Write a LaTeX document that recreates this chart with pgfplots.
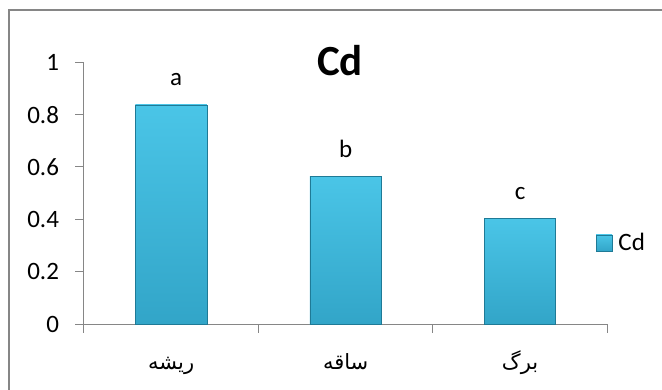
\documentclass[border=0pt]{standalone}
\usepackage{fontspec}
\setmainfont{Carlito}
\newfontfamily\arabicfont[Script=Arabic]{DejaVu Sans}
\usepackage{pgfplots}
\pgfplotsset{compat=1.18}
\TeXXeTstate=1

\definecolor{axisgray}{HTML}{868686}
\definecolor{bartop}{HTML}{4AC5E7}
\definecolor{barmid}{HTML}{3CB9DD}
\definecolor{barbot}{HTML}{32A5C8}
\definecolor{beveldark}{HTML}{1F7A96}

\tikzset{
  bevelbar/.style={
    draw=beveldark, line width=0.7pt,
    top color=bartop, middle color=barmid, bottom color=barbot,
  },
  letter/.style={anchor=base, yshift=19pt, text=black,
    font=\fontsize{25}{30}\selectfont}
}

\begin{document}
\begin{tikzpicture}
\useasboundingbox (0pt,0pt) rectangle (662pt,-389pt);
% chart frame
\draw[axisgray, line width=1.3pt] (9pt,-400pt) -- (9pt,-10pt) -- (680pt,-10pt);

\begin{axis}[
  at={(84pt,-324pt)}, anchor=south west,
  scale only axis, width=523.3pt, height=261.7pt,
  xmin=0, xmax=3, ymin=0, ymax=1,
  clip=false,
  axis x line*=bottom, axis y line*=left,
  axis line style={axisgray, line width=1pt},
  tick style={axisgray, line width=1pt},
  tick align=outside, major tick length=8.5pt,
  xtick={0,1,2,3}, xticklabels={},
  extra x ticks={0.5,1.5,2.5},
  extra x tick labels={
    {\arabicfont\beginR ریشه\endR},
    {\arabicfont\beginR ساقه\endR},
    {\arabicfont\beginR برگ\endR}},
  extra x tick style={major tick length=0pt,
    xticklabel style={anchor=base, yshift=-45pt,
      font=\fontsize{21}{25}\selectfont}},
  ytick={0,0.2,0.4,0.6,0.8,1},
  yticklabels={0,0.2,0.4,0.6,0.8,1},
  yticklabel style={font=\fontsize{25}{30}\selectfont, xshift=-13pt},
  legend style={at={(0.978,0.31)}, anchor=west, draw=none, fill=none,
    inner sep=0pt, font=\fontsize{25}{30}\selectfont,
    legend cell align=left,
    /tikz/every odd column/.append style={column sep=4pt}},
  legend image code/.code={
    \fill[top color=bartop, middle color=barmid, bottom color=barbot,
      draw=beveldark, line width=0.5pt] (0pt,-8pt) rectangle (16pt,8pt);},
]
\addplot[ybar, bar width=0.41, bar shift=0pt, bevelbar,
  nodes near coords={a},
  every node near coord/.style={letter, xshift=5pt}]
  coordinates {(0.5,0.837)};
\addlegendentry{Cd}
\addplot[ybar, bar width=0.41, bar shift=0pt, bevelbar, forget plot,
  nodes near coords={b},
  every node near coord/.style={letter}]
  coordinates {(1.5,0.563)};
\addplot[ybar, bar width=0.41, bar shift=0pt, bevelbar, forget plot,
  nodes near coords={c},
  every node near coord/.style={letter}]
  coordinates {(2.5,0.404)};

\node[font=\bfseries\fontsize{43}{50}\selectfont]
  at (axis cs:1.468,1.006) {Cd};
\end{axis}
\end{tikzpicture}
\end{document}
